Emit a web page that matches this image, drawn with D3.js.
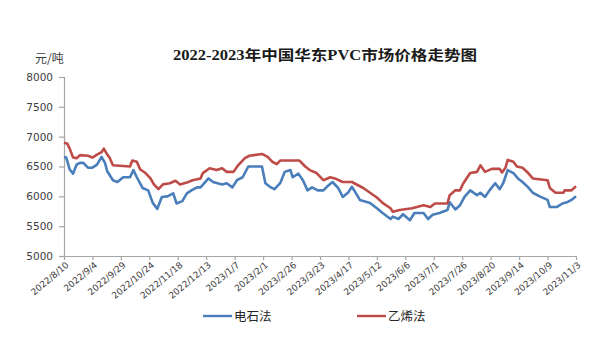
<!DOCTYPE html>
<html><head><meta charset="utf-8">
<script src="https://cdn.jsdelivr.net/npm/d3@7/dist/d3.min.js"></script>
<style>
html,body{margin:0;padding:0;background:#fff;}
svg{display:block;}
</style></head>
<body>
<svg id="chart" width="593" height="359"></svg>
<script>
// ---- Data ----
const startDate = "2022-08-10";
const endDate = "2023-11-03";
const title = "2022-2023年中国华东PVC市场价格走势图";
const unitLabel = "元/吨";
const seriesNames = ["电石法", "乙烯法"];
const yTicks = [5000, 5500, 6000, 6500, 7000, 7500, 8000];
const xTickLabels = ["2022/8/10","2022/9/4","2022/9/29","2022/10/24","2022/11/18","2022/12/13","2023/1/7","2023/2/1","2023/2/26","2023/3/23","2023/4/17","2023/5/12","2023/6/6","2023/7/1","2023/7/26","2023/8/20","2023/9/14","2023/10/9","2023/11/3"];

// day offsets from startDate
const carbideDays = [0,2,5,8,11,14,17,21,25,29,33,36,38,43,47,52,58,61,64,69,74,78,82,86,91,96,99,104,108,112,117,120,127,131,135,139,143,148,152,157,162,174,177,181,185,190,194,199,201,206,210,214,218,223,228,231,236,241,245,250,253,256,260,269,275,280,287,289,294,298,304,308,316,320,324,330,337,339,344,348,352,357,363,366,370,374,379,383,386,390,395,399,403,408,412,418,425,427,433,438,442,446,450];
const carbideValues = [6660,6650,6450,6380,6530,6560,6560,6480,6480,6530,6660,6560,6420,6270,6240,6320,6320,6440,6320,6140,6100,5890,5790,5990,6000,6050,5880,5920,6050,6100,6150,6150,6300,6240,6220,6200,6220,6150,6270,6320,6500,6500,6220,6160,6120,6220,6410,6440,6320,6380,6270,6100,6150,6100,6100,6160,6240,6140,5990,6070,6160,6070,5940,5890,5800,5720,5620,5660,5620,5700,5600,5720,5720,5620,5690,5720,5770,5900,5780,5850,5990,6100,6020,6060,5990,6100,6220,6120,6220,6440,6390,6300,6240,6150,6060,6000,5940,5820,5820,5880,5900,5940,6000];

const ethyleneDays = [0,3,5,8,11,14,21,25,29,33,35,38,40,43,58,60,64,67,71,76,79,83,87,93,98,102,108,113,120,122,128,134,139,143,149,153,159,163,174,179,183,187,190,207,212,216,222,228,234,238,245,253,258,263,269,275,280,287,289,295,306,316,322,326,337,339,344,348,351,357,363,366,370,376,383,385,388,390,395,398,403,408,412,425,427,432,439,440,446,450];
const ethyleneValues = [6900,6880,6800,6650,6640,6690,6680,6650,6700,6740,6800,6700,6650,6520,6500,6600,6580,6450,6400,6300,6200,6120,6200,6220,6260,6200,6230,6270,6300,6390,6470,6440,6470,6410,6410,6520,6640,6680,6710,6660,6580,6540,6600,6600,6500,6440,6390,6270,6320,6300,6240,6240,6190,6140,6060,5980,5890,5800,5740,5770,5800,5850,5820,5880,5880,6020,6100,6100,6220,6390,6410,6520,6410,6460,6460,6400,6480,6610,6580,6500,6480,6390,6300,6270,6140,6060,6060,6100,6100,6170];

const colors = ["#4A7EBB", "#BE4B48"];

// ---- Chart ----
const svg = d3.select("#chart");
const parse = d3.timeParse("%Y-%m-%d");
const t0 = parse(startDate), t1 = parse(endDate);
const margin = {left: 64, right: 17, top: 77, bottom: 103};
const W = 593, H = 359;

const x = d3.scaleTime().domain([t0, t1]).range([margin.left, W - margin.right]);
const y = d3.scaleLinear().domain([5000, 8000]).range([H - margin.bottom, margin.top]);

const axisColor = "#a6a6a6";
const textColor = "#404040";

// Title
svg.append("text")
  .attr("x", 325).attr("y", 60)
  .attr("text-anchor", "middle")
  .attr("font-family", "'Liberation Serif','Noto Sans CJK SC',serif")
  .attr("font-weight", "bold")
  .attr("font-size", 14)
  .attr("fill", "#1a1a1a")
  .attr("textLength", 304).attr("lengthAdjust", "spacingAndGlyphs")
  .text(title);

// unit label
svg.append("text")
  .attr("x", 35).attr("y", 63)
  .attr("font-family", "'Noto Sans CJK SC',sans-serif")
  .attr("font-size", 12)
  .attr("fill", textColor)
  .text(unitLabel);

// Y axis
const yAxis = d3.axisLeft(y).tickValues(yTicks).tickSize(5).tickPadding(6).tickFormat(d3.format("d"));
const gy = svg.append("g").attr("transform", `translate(${margin.left},0)`).call(yAxis);
gy.select(".domain").attr("stroke", axisColor).attr("stroke-width", 1.2);
gy.selectAll(".tick line").attr("stroke", axisColor).attr("stroke-width", 1.2);
gy.selectAll(".tick text")
  .attr("font-family", "'DejaVu Sans',sans-serif")
  .attr("font-size", 10.5)
  .attr("fill", textColor);

// X axis
const xTickDates = xTickLabels.map(s => d3.timeParse("%Y/%m/%d")(s));
const xAxis = d3.axisBottom(x).tickValues(xTickDates).tickSize(4).tickSizeOuter(0)
  .tickFormat((d, i) => xTickLabels[i]);
const gx = svg.append("g").attr("transform", `translate(0,${H - margin.bottom})`).call(xAxis);
gx.select(".domain").attr("stroke", axisColor).attr("stroke-width", 1.2);
gx.selectAll(".tick line").attr("stroke", axisColor).attr("stroke-width", 1.2);
gx.selectAll(".tick text")
  .attr("font-family", "'DejaVu Sans',sans-serif")
  .attr("font-size", 9)
  .attr("fill", textColor)
  .attr("text-anchor", "end")
  .attr("dy", null)
  .attr("y", 0)
  .attr("transform", "translate(5,10) rotate(-40)");

// Lines
const line = d3.line().x(d => x(d[0])).y(d => y(d[1]));
const makeSeries = (days, vals) => days.map((dd, i) => [d3.timeDay.offset(t0, dd), vals[i]]);
const series = [makeSeries(carbideDays, carbideValues), makeSeries(ethyleneDays, ethyleneValues)];

series.forEach((s, i) => {
  svg.append("path")
    .datum(s)
    .attr("fill", "none")
    .attr("stroke", colors[i])
    .attr("stroke-width", 2.6)
    .attr("stroke-linejoin", "round")
    .attr("d", line);
});

// Legend
const legendX = [203, 357];
seriesNames.forEach((name, i) => {
  const g = svg.append("g").attr("transform", `translate(${legendX[i]},316)`);
  g.append("line").attr("x1", 0).attr("x2", 29).attr("y1", 0).attr("y2", 0)
    .attr("stroke", colors[i]).attr("stroke-width", 2.4);
  g.append("text").attr("x", 31).attr("y", 4.5)
    .attr("font-family", "'Noto Sans CJK SC',sans-serif")
    .attr("font-size", 12.5)
    .attr("fill", "#262626")
    .text(name);
});
</script>
</body></html>
